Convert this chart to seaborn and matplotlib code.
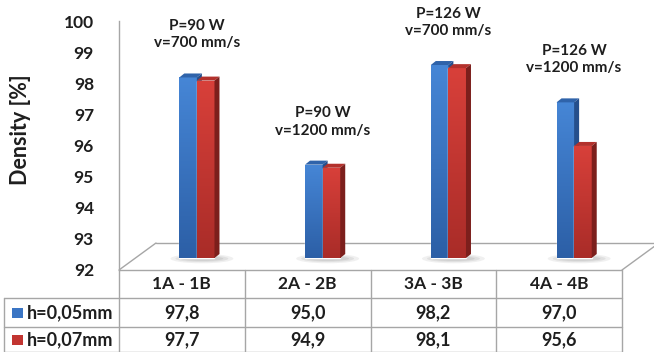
import numpy as np
import pandas as pd
import matplotlib
matplotlib.use("Agg")
import matplotlib.pyplot as plt
import matplotlib.transforms as mtransforms
from matplotlib.patches import Polygon, Rectangle, Ellipse
from matplotlib.lines import Line2D
from matplotlib.colors import LinearSegmentedColormap
import seaborn as sns

# ---------------- data ----------------
categories = ["1A - 1B", "2A - 2B", "3A - 3B", "4A - 4B"]
series_names = ["h=0,05mm", "h=0,07mm"]
h005 = [97.8, 95.0, 98.2, 97.0]
h007 = [97.7, 94.9, 98.1, 95.6]
h005_text = ["97,8", "95,0", "98,2", "97,0"]
h007_text = ["97,7", "94,9", "98,1", "95,6"]
params = ["P=90 W\nv=700 mm/s", "P=90 W\nv=1200 mm/s",
          "P=126 W\nv=700 mm/s", "P=126 W\nv=1200 mm/s"]
yticks = [92, 93, 94, 95, 96, 97, 98, 99, 100]

df = pd.DataFrame({
    "cat": categories * 2,
    "series": [series_names[0]] * 4 + [series_names[1]] * 4,
    "val": h005 + h007,
})

# ---------------- style ----------------
sns.set_theme(style="white")
plt.rcParams["font.family"] = ["Lato", "DejaVu Sans"]
plt.rcParams["font.weight"] = "bold"
TXT = "#1e1e1e"
GRID = "#a6a6a6"

W, H = 654, 352
fig = plt.figure(figsize=(W / 100, H / 100), dpi=100)
fig.patch.set_facecolor("white")

def fx(x):
    return x / W

def fy(y):
    return 1 - y / H

ax_l, ax_r, ax_t, ax_b = 119, 622, 21, 270
ax = fig.add_axes([fx(ax_l), fy(ax_b), (ax_r - ax_l) / W, (ax_b - ax_t) / H])
ax.set_facecolor("none")

blue_light, blue_dark = "#4686d6", "#2c5fa6"
red_light, red_dark = "#d8403a", "#a92c28"
blue_top, blue_side = "#2f63aa", "#254f8c"
red_top, red_side = "#b3312c", "#7c1f1c"

sns.barplot(data=df, x="cat", y="val", hue="series", order=categories,
            hue_order=series_names, palette=[blue_light, red_light],
            width=0.28, saturation=1, legend=False, ax=ax, zorder=2)

ax.set_xlim(-0.5, 3.5)
ax.set_ylim(92, 100)
ax.set_yticks(yticks)
ax.set_yticklabels([str(t) for t in yticks], fontsize=12.5, fontweight="bold", color=TXT)
ax.tick_params(axis="y", length=0, pad=18)
ax.set_xticks([])
ax.set_xlabel("")
for s in ["top", "right", "bottom"]:
    ax.spines[s].set_visible(False)
ax.spines["left"].set_color(GRID)
ax.spines["left"].set_linewidth(1.0)
ax.set_ylabel("Density [%]", fontsize=15.5, fontweight="bold", color=TXT)
ax.yaxis.label.set_va("center")
ax.yaxis.set_label_coords((21 - ax_l) / (ax_r - ax_l), (ax_b - 130) / (ax_b - ax_t))

# floor outline (behind the bars)
def fline(x1, y1, x2, y2, z=1):
    ax.add_line(Line2D([fx(x1), fx(x2)], [fy(y1), fy(y2)], color=GRID, lw=1.0,
                       transform=fig.transFigure, clip_on=False, zorder=z))

fline(119, 270, 156, 243)
fline(156, 243, 654, 243)
fline(622, 270, 659, 243)

# 3-D offset of the bars (they stand at mid-depth of the floor)
bar_trans = ax.transData + mtransforms.ScaledTranslation(0.15, 0.12, fig.dpi_scale_trans)
px_x = (ax_r - ax_l) / 4.0
px_y = (ax_b - ax_t) / 8.0
dx = 5 / px_x
dy = 4 / px_y

# soft shadows at the foot of each pair of bars
for i in range(len(categories)):
    for k, (sw, sh, a) in enumerate([(0.50, 0.30, 0.10), (0.42, 0.22, 0.12), (0.34, 0.15, 0.14)]):
        ax.add_patch(Ellipse((i + 0.04, 92 - 0.02), sw, sh, facecolor="#707070",
                             edgecolor="none", alpha=a, transform=bar_trans,
                             zorder=1.5, clip_on=False))

grads = [(blue_dark, blue_light, blue_top, blue_side),
         (red_dark, red_light, red_top, red_side)]
for si, cont in enumerate(ax.containers):
    dark, light, topc, sidec = grads[si]
    cmap = LinearSegmentedColormap.from_list("g%d" % si, [dark, light])
    for p in cont.patches:
        top = p.get_y() + p.get_height()
        p.set_y(92)
        p.set_height(top - 92)
        p.set_transform(bar_trans)
        p.set_clip_on(False)
        z = 3 + si
        p.set_zorder(z)
        x0, w = p.get_x(), p.get_width()
        grad = np.linspace(0, 1, 128).reshape(-1, 1)
        im = ax.imshow(grad, extent=[x0, x0 + w, 92, top], cmap=cmap,
                       aspect="auto", origin="lower", zorder=z + 0.1,
                       interpolation="bilinear")
        im.set_transform(bar_trans)
        im.set_clip_path(p)
        topface = Polygon([[x0, top], [x0 + w, top], [x0 + w + dx, top + dy], [x0 + dx, top + dy]],
                          closed=True, facecolor=topc, edgecolor="none",
                          transform=bar_trans, zorder=z + 0.2, clip_on=False)
        side = Polygon([[x0 + w, 92], [x0 + w, top], [x0 + w + dx, top + dy], [x0 + w + dx, 92 + dy]],
                       closed=True, facecolor=sidec, edgecolor="none",
                       transform=bar_trans, zorder=z + 0.2, clip_on=False)
        ax.add_patch(topface)
        ax.add_patch(side)

ax.set_xlim(-0.5, 3.5)
ax.set_ylim(92, 100)

# parameter annotations above each group
for i, txt in enumerate(params):
    ymax = max(h005[i], h007[i])
    ax.annotate(txt, xy=(i, ymax), xycoords=bar_trans, xytext=(0, 27),
                textcoords="offset pixels", ha="center", va="bottom",
                fontsize=11, fontweight="bold", color=TXT,
                linespacing=1.3, annotation_clip=False)

# data table
def tline(x1, y1, x2, y2):
    fig.add_artist(Line2D([fx(x1), fx(x2)], [fy(y1), fy(y2)], color=GRID, lw=1.0))

tline(119, 270, 622, 270)
tline(4, 298, 622, 298)
tline(4, 327, 622, 327)
tline(4, 351.5, 622, 351.5)
tline(4, 298, 4, 352)
blend = mtransforms.blended_transform_factory(ax.transData, fig.transFigure)
for xb in [-0.5, 0.5, 1.5, 2.5, 3.5]:
    fig.add_artist(Line2D([xb, xb], [fy(270), fy(352)], color=GRID, lw=1.0, transform=blend))

for i, c in enumerate(categories):
    fig.text(i, fy(284), c, transform=blend, ha="center", va="center",
             fontsize=12.5, fontweight="bold", color=TXT)
    fig.text(i, fy(313), h005_text[i], transform=blend, ha="center", va="center",
             fontsize=13, fontweight="bold", color=TXT)
    fig.text(i, fy(340), h007_text[i], transform=blend, ha="center", va="center",
             fontsize=13, fontweight="bold", color=TXT)

for r, (name, col) in enumerate(zip(series_names, ["#3a75c4", "#c23531"])):
    yc = 313 + 27 * r
    fig.add_artist(Rectangle((fx(12), fy(yc + 5)), 11 / W, 10 / H, transform=fig.transFigure,
                             facecolor=col, edgecolor="none"))
    fig.text(fx(27), fy(yc), name, ha="left", va="center", fontsize=13,
             fontweight="bold", color=TXT)

fig.savefig("out.png", dpi=100, facecolor="white")
